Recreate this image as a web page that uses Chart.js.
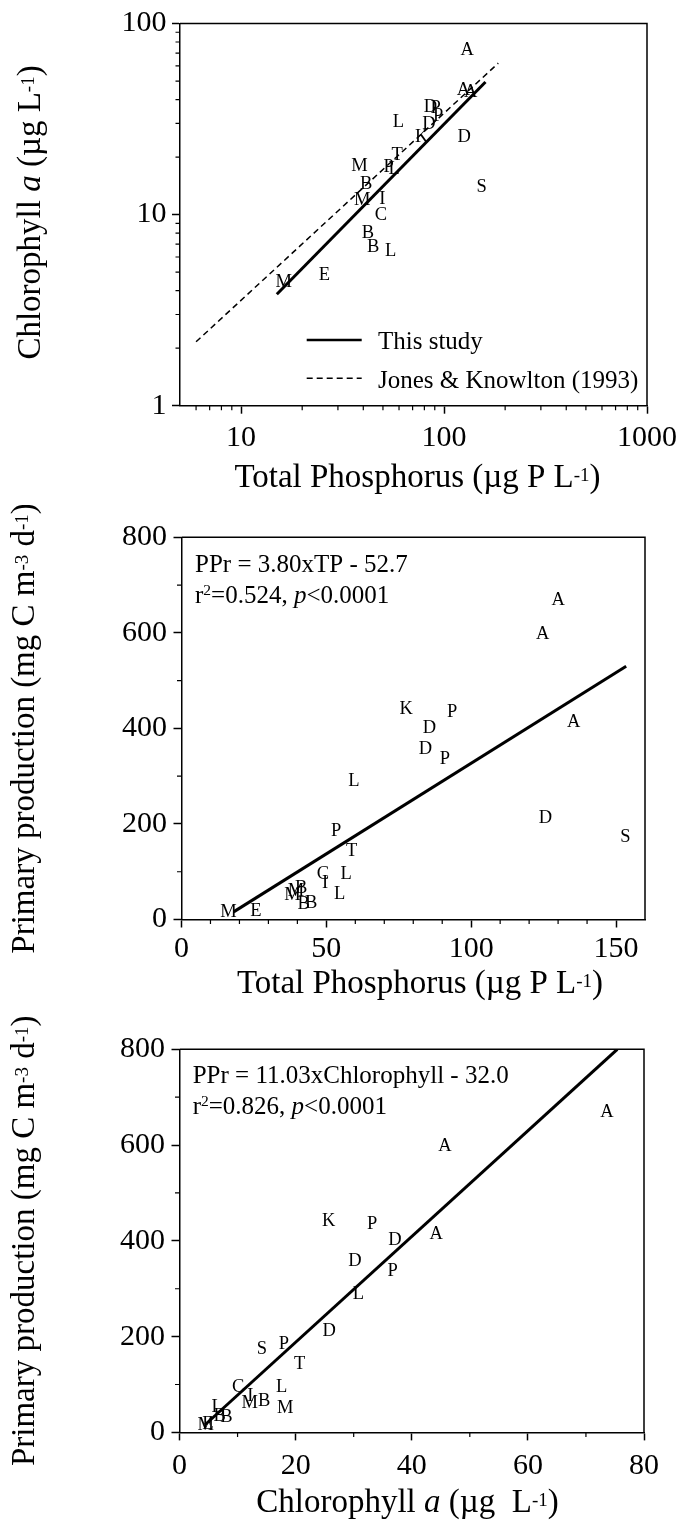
<!DOCTYPE html>
<html><head><meta charset="utf-8">
<script src="https://cdn.jsdelivr.net/npm/chart.js@4.4.1/dist/chart.umd.min.js"></script>
<style>
html,body{margin:0;padding:0;background:#fff;width:683px;height:1525px;overflow:hidden;}
canvas{position:absolute;left:0;}
</style></head><body>
<canvas id="c1" width="683" height="505" style="top:0px"></canvas>
<canvas id="c2" width="683" height="510" style="top:505px"></canvas>
<canvas id="c3" width="683" height="510" style="top:1015px"></canvas>
<script>
// ---- data (one entry per lake sample) ----
const lakes    = ['A','A','A','K','P','D','D','P','L','D','S','P','T','C','L','I','L','M','M','B','B','B','M','E'];
const totalP   = [130,124.7,135.4,77.6,93.4,85.6,84.2,90.9,59.5,125.6,153.2,53.4,58.7,48.8,56.8,49.6,54.6,38.3,39.5,41.3,42.2,44.8,16.2,25.7];
const chlA     = [73.6,45.7,44.2,25.7,33.2,37.1,30.2,36.7,30.8,25.8,14.2,18.0,20.7,10.1,17.6,12.2,6.5,18.2,12.1,14.6,8.1,6.9,4.5,4.9];
const primProd = [672,600,416,443,437,404,360,339,292,215,176,187,146,97,98,78,55,54,63,68,34,36,18,20];

// regression lines (end points)
const thisStudyTP  = [15, 160];   const thisStudyChl = [3.83, 49.4];
const jonesTP      = [6, 185];    const jonesChl     = [2.16, 62];
const ppTPLineX    = [18, 153.5]; const ppTPLineY    = [16, 530];
const ppChlLineX   = [4.4, 75.4]; const ppChlLineY   = [16, 800];

// ticks
const logTPTicks  = [10, 100, 1000];
const logTPMinor  = [6,7,8,9,20,30,40,50,60,70,80,90,200,300,400,500,600,700,800,900];
const logChlTicks = [1, 10, 100];
const logChlMinor = [2,3,4,5,6,7,8,9,20,30,40,50,60,70,80,90];
const tpTicks  = [0, 50, 100, 150];
const tpMinor  = [10,20,30,40,60,70,80,90,110,120,130,140];
const ppTicks  = [0, 200, 400, 600, 800];
const ppMinor  = [100, 300, 500, 700];
const chlTicks = [0, 20, 40, 60, 80];
const chlMinor = [10, 30, 50, 70];

const FONT = '"Liberation Serif", "Times New Roman", serif';

function pts(xs, ys) { return xs.map((x, i) => ({x: x, y: ys[i]})); }

function drawRich(ctx, runs, size, x, y, align, sup) {
  let w = 0;
  const parts = runs.map(([t, st]) => {
    const fs = st === 's' ? sup.size : size;
    const font = (st === 'i' ? 'italic ' : '') + fs + 'px ' + FONT;
    ctx.font = font;
    const pw = ctx.measureText(t).width;
    w += pw;
    return {t, font, pw, dy: st === 's' ? -sup.raise : 0};
  });
  let cx = align === 'center' ? x - w / 2 : x;
  ctx.textBaseline = 'alphabetic';
  ctx.textAlign = 'left';
  ctx.fillStyle = '#000';
  for (const p of parts) { ctx.font = p.font; ctx.fillText(p.t, cx, y + p.dy); cx += p.pw; }
}

const panelPlugin = {
  id: 'panelText',
  afterDatasetsDraw(chart, args, opts) {
    const ctx = chart.ctx;
    const ca = chart.chartArea;
    ctx.save();
    // letters at the data points
    chart.data.datasets.forEach((ds, i) => {
      if (!ds.letters) return;
      const meta = chart.getDatasetMeta(i);
      ctx.font = opts.letterSize + 'px ' + FONT;
      ctx.fillStyle = '#000';
      ctx.textAlign = 'center';
      ctx.textBaseline = 'alphabetic';
      meta.data.forEach((el, j) => {
        ctx.fillText(ds.letters[j], el.x, el.y + opts.letterSize * 0.33);
      });
    });
    ctx.restore();
  },
  afterDraw(chart, args, opts) {
    const ctx = chart.ctx;
    const ca = chart.chartArea;
    ctx.save();
    // top and right frame
    ctx.strokeStyle = '#000';
    ctx.lineWidth = 1.5;
    ctx.beginPath();
    ctx.moveTo(ca.left, ca.top); ctx.lineTo(ca.right, ca.top); ctx.lineTo(ca.right, ca.bottom);
    ctx.stroke();
    // minor ticks
    const xs = chart.scales.x, ys = chart.scales.y;
    ctx.lineWidth = 1.2;
    ctx.beginPath();
    (opts.xMinor || []).forEach(v => { const p = xs.getPixelForValue(v); ctx.moveTo(p, ca.bottom); ctx.lineTo(p, ca.bottom + 4.5); });
    (opts.yMinor || []).forEach(v => { const p = ys.getPixelForValue(v); ctx.moveTo(ca.left, p); ctx.lineTo(ca.left - 4.5, p); });
    ctx.stroke();
    // axis titles
    const tsup = {size: 19, raise: 6};
    if (opts.xTitle) drawRich(ctx, opts.xTitle.runs, 33, opts.xTitle.x, opts.xTitle.y, 'center', tsup);
    if (opts.yTitle) {
      ctx.save();
      ctx.translate(opts.yTitle.x, opts.yTitle.y);
      ctx.rotate(-Math.PI / 2);
      drawRich(ctx, opts.yTitle.runs, 33, 0, 0, 'center', tsup);
      ctx.restore();
    }
    // equation text
    (opts.lines || []).forEach(l => drawRich(ctx, l.runs, 25, l.x, l.y, 'left', {size: 15.5, raise: 8.5}));
    // legend
    (opts.legend || []).forEach(l => {
      ctx.strokeStyle = '#000';
      ctx.lineWidth = l.width;
      ctx.setLineDash(l.dash || []);
      ctx.beginPath(); ctx.moveTo(l.x1, l.y); ctx.lineTo(l.x2, l.y); ctx.stroke();
      ctx.setLineDash([]);
      ctx.font = '25px ' + FONT; ctx.fillStyle = '#000';
      ctx.textAlign = 'left'; ctx.textBaseline = 'alphabetic';
      ctx.fillText(l.text, l.tx, l.ty);
    });
    ctx.restore();
  }
};

function axis(type, min, max, ticks, pad, fitSize, isX) {
  return {
    type: type, min: min, max: max, position: isX ? 'bottom' : 'left',
    afterBuildTicks: s => { s.ticks = ticks.map(v => ({value: v})); },
    afterFit: s => { if (isX) s.height = fitSize; else s.width = fitSize; },
    ticks: {autoSkip: false, maxRotation: 0, minRotation: 0, padding: pad, color: '#000',
            font: {family: FONT, size: 30, lineHeight: 1.2}, callback: v => String(v)},
    grid: {display: true, drawOnChartArea: false, drawTicks: true, tickLength: 8, tickWidth: 1.5, tickColor: '#000'},
    border: {display: true, color: '#000', width: 1.5},
    title: {display: false}
  };
}

function lineDs(xs, ys, width, dash) {
  return {data: pts(xs, ys), showLine: true, borderColor: '#000', borderWidth: width,
          borderDash: dash || [], pointRadius: 0, pointHoverRadius: 0, fill: false, tension: 0};
}

function letterDs(xs, ys) {
  return {data: pts(xs, ys), letters: lakes, pointRadius: 0, pointHoverRadius: 0,
          backgroundColor: 'rgba(0,0,0,0)', borderColor: 'rgba(0,0,0,0)'};
}

function makeChart(id, cfg) {
  return new Chart(document.getElementById(id), {
    type: 'scatter',
    data: {datasets: cfg.datasets},
    options: {
      responsive: false, animation: false, devicePixelRatio: 1, events: [],
      layout: {autoPadding: false, padding: cfg.padding},
      plugins: {legend: {display: false}, tooltip: {enabled: false}, panelText: cfg.text},
      scales: {x: cfg.x, y: cfg.y}
    },
    plugins: [panelPlugin]
  });
}

// Panel 1: Chl a vs TP (log-log)
makeChart('c1', {
  padding: {left: 0, top: 21.5, right: 36, bottom: 0},
  x: axis('logarithmic', 5, 1000, logTPTicks, 6, 505 - 405.7, true),
  y: axis('logarithmic', 1, 100, logChlTicks, 5.5, 180, false),
  datasets: [
    letterDs(totalP, chlA),
    lineDs(thisStudyTP, thisStudyChl, 3),
    lineDs(jonesTP, jonesChl, 1.5, [6, 4])
  ],
  text: {
    letterSize: 18.5, xMinor: logTPMinor, yMinor: logChlMinor,
    xTitle: {runs: [['Total Phosphorus (µg P L', 'n'], ['-1', 's'], [')', 'n']], x: 417.5, y: 486.7},
    yTitle: {runs: [['Chlorophyll ', 'n'], ['a', 'i'], [' (µg L', 'n'], ['-1', 's'], [')', 'n']], x: 40, y: 212.5},
    legend: [
      {x1: 306.7, x2: 361.7, y: 340, width: 2.5, text: 'This study', tx: 378, ty: 349},
      {x1: 306.7, x2: 361.7, y: 378.3, width: 1.5, dash: [6, 4], text: 'Jones & Knowlton (1993)', tx: 378, ty: 388}
    ]
  }
});

// Panel 2: PPr vs TP
makeChart('c2', {
  padding: {left: 0, top: 32.3, right: 38, bottom: 0},
  x: axis('linear', 0, 160, tpTicks, 4, 510 - 414.5, true),
  y: axis('linear', 0, 800, ppTicks, 6.5, 181.5, false),
  datasets: [
    letterDs(totalP, primProd),
    lineDs(ppTPLineX, ppTPLineY, 3)
  ],
  text: {
    letterSize: 18.5, xMinor: tpMinor, yMinor: ppMinor,
    xTitle: {runs: [['Total Phosphorus (µg P L', 'n'], ['-1', 's'], [')', 'n']], x: 420, y: 488},
    yTitle: {runs: [['Primary production (mg C m', 'n'], ['-3', 's'], [' d', 'n'], ['-1', 's'], [')', 'n']], x: 33.5, y: 223.4},
    lines: [
      {runs: [['PPr = 3.80xTP - 52.7', 'n']], x: 195, y: 66.7},
      {runs: [['r', 'n'], ['2', 's'], ['=0.524, ', 'n'], ['p', 'i'], ['<0.0001', 'n']], x: 195, y: 98.3}
    ]
  }
});

// Panel 3: PPr vs Chl a
makeChart('c3', {
  padding: {left: 0, top: 34.3, right: 39, bottom: 0},
  x: axis('linear', 0, 80, chlTicks, 8, 510 - 417.4, true),
  y: axis('linear', 0, 800, ppTicks, 6.5, 179.5, false),
  datasets: [
    letterDs(chlA, primProd),
    lineDs(ppChlLineX, ppChlLineY, 3)
  ],
  text: {
    letterSize: 18.5, xMinor: chlMinor, yMinor: ppMinor,
    xTitle: {runs: [['Chlorophyll ', 'n'], ['a', 'i'], [' (µg  L', 'n'], ['-1', 's'], [')', 'n']], x: 407.5, y: 497},
    yTitle: {runs: [['Primary production (mg C m', 'n'], ['-3', 's'], [' d', 'n'], ['-1', 's'], [')', 'n']], x: 33.5, y: 225.8},
    lines: [
      {runs: [['PPr = 11.03xChlorophyll - 32.0', 'n']], x: 192.7, y: 67.7},
      {runs: [['r', 'n'], ['2', 's'], ['=0.826, ', 'n'], ['p', 'i'], ['<0.0001', 'n']], x: 192.7, y: 99}
    ]
  }
});
</script>
</body></html>
